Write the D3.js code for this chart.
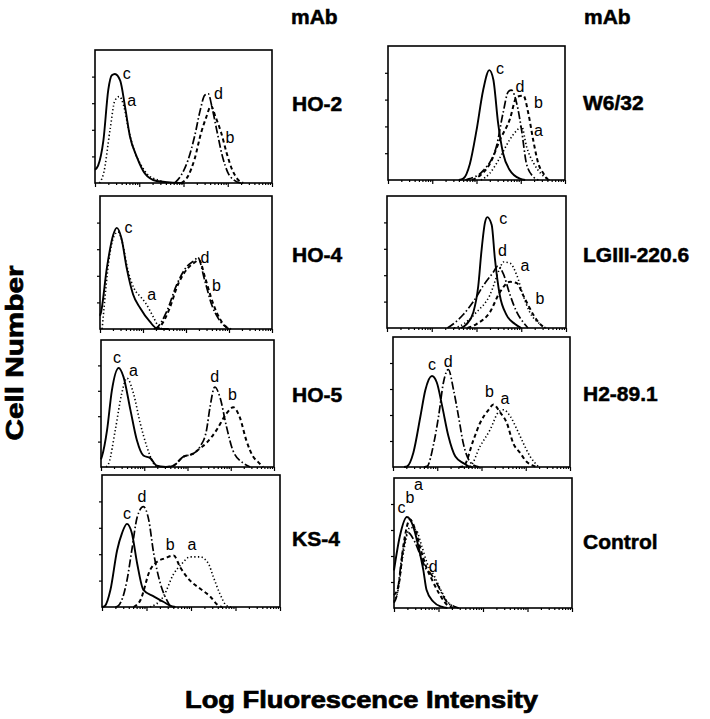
<!DOCTYPE html>
<html lang="en">
  <head>
    <meta charset="utf-8" />
    <script src="https://d3js.org/d3.v7.min.js"></script>
    <style>
      body {
        margin: 0;
        background-color: #fff;
      }
      svg text {
        font-family: "Liberation Sans", Arial, sans-serif;
        fill: #000;
      }
      .name {
        font-weight: bold;
        font-size: 21px;
        stroke: #000;
        stroke-width: 0.5px;
      }
      .title {
        font-weight: bold;
        font-size: 23px;
        stroke: #000;
        stroke-width: 0.7px;
      }
      .letter {
        font-size: 16px;
      }
      .curve {
        fill: none;
        stroke: #000;
      }
      .box {
        fill: none;
        stroke: #000;
        stroke-width: 1.6px;
      }
      .axis path {
        display: none;
      }
      .axis line {
        stroke: #000;
        stroke-width: 1.2px;
      }
    </style>
  </head>
  <body>
    <div id="chart"></div>

    <script>
      // x : log fluorescence in decades (0-4), y : % of frame height
      const names = ["HO-2", "HO-4", "HO-5", "KS-4", "W6/32", "LGIII-220.6", "H2-89.1", "Control"];

      const ho2A = [[0.1,0],[0.2,8],[0.34,40],[0.45,62],[0.55,65],[0.65,58],[0.76,40],[0.88,25],[1.05,13],[1.2,6],[1.45,2],[1.7,0]];
      const ho2B = [[1.95,0],[2.1,5],[2.25,18],[2.4,38],[2.52,50],[2.62,58],[2.72,50],[2.85,38],[2.98,22],[3.1,10],[3.22,3],[3.35,0]];
      const ho2C = [[0,10],[0.07,13],[0.19,32],[0.3,70],[0.38,81],[0.45,82],[0.57,77],[0.68,57],[0.79,35],[0.94,20],[1.13,7],[1.39,1.5],[1.7,0.5],[2.0,0]];
      const ho2D = [[1.8,0],[1.95,6],[2.1,17],[2.25,35],[2.38,55],[2.48,66],[2.56,67],[2.65,56],[2.75,40],[2.88,20],[3.0,8],[3.15,2],[3.3,0]];
      const ho2Labels = [["c",0.72,82],["a",0.83,62],["d",2.79,67],["b",3.05,34]];

      const ho4A = [[0.05,0],[0.1,18],[0.2,50],[0.33,70],[0.42,73],[0.52,65],[0.65,44],[0.8,30],[0.95,24],[1.05,20],[1.24,9],[1.36,2],[1.45,0]];
      const ho4B = [[1.3,0],[1.4,2],[1.6,14],[1.82,34],[2.05,46],[2.2,50],[2.3,52],[2.45,38],[2.62,20],[2.78,8],[2.92,2],[3.05,0]];
      const ho4C = [[0,10],[0.02,12],[0.16,46],[0.31,71],[0.39,76],[0.5,68],[0.62,46],[0.77,26],[0.93,16],[1.16,5.5],[1.32,0.5],[1.6,0]];
      const ho4D = [[1.25,0],[1.32,1],[1.55,13],[1.78,33],[2.02,47],[2.21,52],[2.27,54],[2.44,36],[2.6,18],[2.75,8],[2.87,3],[3.0,0]];
      const ho4Labels = [["c",0.66,76],["a",1.2,26],["d",2.44,54],["b",2.71,33]];

      const ho5A = [[0.12,0],[0.18,3],[0.33,29],[0.48,58],[0.6,70],[0.75,58],[0.91,34],[1.06,16],[1.21,3],[1.3,0]];
      const ho5B = [[1.5,0],[1.67,1],[1.9,8],[2.13,10.5],[2.3,15],[2.44,19],[2.67,29],[2.9,42],[3.06,47],[3.21,39],[3.36,21],[3.52,8],[3.63,4],[3.75,0]];
      const ho5C = [[0,6],[0.02,8],[0.14,29],[0.25,60],[0.41,78],[0.52,71],[0.68,45],[0.83,21],[0.98,9],[1.14,7],[1.29,1],[1.5,0]];
      const ho5D = [[1.5,0],[1.67,1],[1.9,8],[2.13,10.5],[2.29,16],[2.44,29],[2.52,47],[2.63,63],[2.75,55],[2.9,32],[3.05,13],[3.29,3],[3.45,0]];
      const ho5Labels = [["c",0.37,86],["a",0.75,76],["d",2.63,71],["b",3.04,57]];

      const ks4A = [[1.08,0],[1.38,8],[1.61,25],[1.8,33],[1.98,38],[2.2,38],[2.39,33],[2.5,23],[2.65,10],[2.8,1],[2.9,0]];
      const ks4B = [[0.71,0],[0.86,5],[1.08,28],[1.23,34],[1.42,37],[1.61,39],[1.76,30],[1.98,20],[2.2,14],[2.43,8],[2.62,1],[2.7,0]];
      const ks4C = [[0,0],[0.07,1],[0.19,13],[0.34,43],[0.45,56],[0.56,63],[0.67,56],[0.79,33],[0.93,13],[1.16,8],[1.38,4],[1.53,1],[1.65,0]];
      const ks4D = [[0.3,0],[0.37,1],[0.56,20],[0.67,43],[0.79,68],[0.93,76],[1.05,66],[1.16,41],[1.31,18],[1.46,5],[1.53,1],[1.6,0]];
      const ks4Labels = [["c",0.56,71],["d",0.9,84],["b",1.53,47],["a",2.02,47]];

      const w632A = [[2.1,0],[2.3,5],[2.5,15],[2.75,30],[2.91,37],[3.02,40],[3.13,25],[3.3,12],[3.45,5],[3.55,2],[3.65,0]];
      const w632B = [[1.9,0],[2.1,4],[2.3,12],[2.53,30],[2.75,45],[2.91,62],[3.06,63],[3.17,50],[3.28,30],[3.4,12],[3.51,5],[3.62,0]];
      const w632C = [[1.6,0],[1.7,1],[1.85,12],[2.0,37],[2.15,67],[2.29,82],[2.38,75],[2.49,42],[2.6,20],[2.75,7.5],[2.98,1],[3.1,0]];
      const w632D = [[1.75,0],[1.85,1],[2.15,7],[2.45,25],[2.6,50],[2.72,66],[2.79,67],[2.91,57],[3.02,37],[3.13,12],[3.28,2.5],[3.4,0]];
      const w632Labels = [["c",2.53,83],["d",2.98,70],["b",3.4,58],["a",3.4,37]];

      const lgA = [[1.5,0],[1.63,1.5],[2.0,12],[2.3,25],[2.52,45],[2.6,50],[2.75,49],[2.9,40],[3.04,25],[3.19,12],[3.42,3],[3.55,0]];
      const lgB = [[1.8,0],[2.0,3],[2.3,12],[2.52,27],[2.75,35],[2.9,34],[3.04,25],[3.16,17],[3.27,10],[3.42,3],[3.55,0]];
      const lgC = [[1.65,0],[1.78,3],[1.93,12],[2.04,32],[2.11,58],[2.19,80],[2.24,84],[2.34,78],[2.41,53],[2.52,25],[2.67,10],[2.86,3],[3.0,0]];
      const lgD = [[1.35,0],[1.48,3],[1.7,10],[1.93,20],[2.15,32],[2.37,42],[2.48,47],[2.6,41],[2.75,25],[2.9,12],[3.04,4.5],[3.15,0]];
      const lgLabels = [["c",2.6,83],["d",2.58,59],["a",3.08,47],["b",3.42,22]];

      const h2A = [[1.65,0],[1.74,0.5],[1.97,16],[2.2,29],[2.38,42],[2.5,44],[2.65,39],[2.8,29],[2.95,18],[3.1,8],[3.21,3],[3.3,0]];
      const h2B = [[1.5,0],[1.59,0.5],[1.82,21],[1.97,34],[2.16,44],[2.27,48],[2.42,42],[2.57,34],[2.72,18],[2.87,11],[3.02,4],[3.17,1],[3.25,0]];
      const h2C = [[0.25,0],[0.32,0.5],[0.46,11],[0.62,39],[0.73,59],[0.88,70],[0.99,65],[1.11,47],[1.25,24],[1.41,8],[1.59,3],[1.71,0.5],[1.8,0]];
      const h2D = [[0.7,0],[0.77,0.5],[0.92,18],[1.03,39],[1.14,65],[1.25,75],[1.37,59],[1.48,39],[1.59,18],[1.74,4],[1.89,0.5],[1.95,0]];
      const h2Labels = [["c",0.88,79],["d",1.25,81],["b",2.18,58],["a",2.53,53]];

      const ctA = [[0,5],[0.08,12],[0.2,40],[0.36,62],[0.5,60],[0.62,48],[0.75,34],[0.9,25],[1.05,14],[1.2,5],[1.35,1],[1.45,0]];
      const ctB = [[0,10],[0.1,17],[0.22,50],[0.36,68],[0.48,60],[0.6,45],[0.72,32],[0.85,22],[1.0,12],[1.15,4],[1.3,0.5],[1.4,0]];
      const ctC = [[0,29],[0.13,55],[0.29,70],[0.43,63],[0.55,47],[0.66,29],[0.73,14],[0.88,5],[1.07,1],[1.2,0]];
      const ctD = [[0,4],[0.06,9],[0.18,40],[0.32,58],[0.45,52],[0.6,40],[0.72,30],[0.81,27],[0.96,19],[1.18,5],[1.37,1],[1.45,0]];
      const ctLabels = [["c",0.17,77],["b",0.36,85],["a",0.55,95],["d",0.88,32]];

      const curves = [
        { a: ho2A, b: ho2B, c: ho2C, d: ho2D, labels: ho2Labels },
        { a: ho4A, b: ho4B, c: ho4C, d: ho4D, labels: ho4Labels },
        { a: ho5A, b: ho5B, c: ho5C, d: ho5D, labels: ho5Labels },
        { a: ks4A, b: ks4B, c: ks4C, d: ks4D, labels: ks4Labels },
        { a: w632A, b: w632B, c: w632C, d: w632D, labels: w632Labels },
        { a: lgA, b: lgB, c: lgC, d: lgD, labels: lgLabels },
        { a: h2A, b: h2B, c: h2C, d: h2D, labels: h2Labels },
        { a: ctA, b: ctB, c: ctC, d: ctD, labels: ctLabels }
      ];

      // frames (scanned figure is slightly skewed)
      const frames = [
        { x: 95, y: 50, w: 177, h: 133, lx: 292, ly: 111 },
        { x: 100, y: 196, w: 172, h: 133, lx: 292, ly: 262 },
        { x: 101, y: 340, w: 173, h: 127, lx: 292, ly: 402 },
        { x: 102, y: 475, w: 178, h: 132, lx: 292, ly: 546 },
        { x: 388, y: 46, w: 177, h: 134, lx: 583, ly: 110 },
        { x: 387, y: 196, w: 179, h: 132, lx: 583, ly: 262 },
        { x: 393, y: 337, w: 177, h: 130, lx: 583, ly: 401 },
        { x: 394, y: 478, w: 178, h: 130, lx: 583, ly: 549 }
      ];

      const styles = {
        a: { dash: "1.3,2.4", width: 1.6 },
        b: { dash: "4,3", width: 2 },
        c: { dash: null, width: 1.9 },
        d: { dash: "8,2.5,1.5,2.5", width: 1.7 }
      };

      const svg = d3
        .select("#chart")
        .append("svg")
        .attr("width", 710)
        .attr("height", 719);

      const majors = [0, 1, 2, 3, 4];
      const minors = [];
      for (let dec = 0; dec < 4; dec++) {
        for (let k = 2; k < 10; k++) minors.push(dec + Math.log10(k));
      }

      frames.forEach((f, i) => {
        const x = d3.scaleLinear().domain([0, 4]).range([0, f.w]);
        const y = d3.scaleLinear().domain([0, 100]).range([f.h, 0]);
        const g = svg.append("g").attr("transform", `translate(${f.x},${f.y})`);

        g.append("rect").attr("class", "box").attr("width", f.w).attr("height", f.h);

        g.append("g")
          .attr("class", "axis")
          .call(d3.axisLeft(y).tickValues([20, 40, 60, 80]).tickSize(3).tickFormat(""));

        g.append("g")
          .attr("class", "axis")
          .attr("transform", `translate(0,${f.h})`)
          .call(d3.axisBottom(x).tickValues(majors).tickSize(4).tickFormat(""));

        g.append("g")
          .attr("class", "axis")
          .attr("transform", `translate(0,${f.h})`)
          .call(d3.axisBottom(x).tickValues(minors).tickSize(2).tickFormat(""));

        const line = d3
          .line()
          .x((d) => x(d[0]))
          .y((d) => y(d[1]))
          .curve(d3.curveMonotoneX);

        const set = curves[i];
        ["a", "b", "d", "c"].forEach((k) => {
          g.append("path")
            .attr("class", "curve")
            .attr("d", line(set[k]))
            .attr("stroke-width", styles[k].width)
            .attr("stroke-dasharray", styles[k].dash);
        });

        g.selectAll(".letter")
          .data(set.labels)
          .join("text")
          .attr("class", "letter")
          .attr("x", (d) => x(d[1]))
          .attr("y", (d) => y(d[2]))
          .attr("text-anchor", "middle")
          .attr("dominant-baseline", "central")
          .text((d) => d[0]);

        svg.append("text")
          .attr("class", "name")
          .attr("x", f.lx)
          .attr("y", f.ly)
          .text(names[i]);
      });

      svg.append("text").attr("class", "name").attr("x", 291).attr("y", 24).text("mAb");
      svg.append("text").attr("class", "name").attr("x", 584).attr("y", 24).text("mAb");

      svg.append("text")
        .attr("class", "title")
        .attr("transform", "translate(23,353) rotate(-90)")
        .attr("text-anchor", "middle")
        .attr("textLength", 175)
        .attr("lengthAdjust", "spacingAndGlyphs")
        .text("Cell Number");

      svg.append("text")
        .attr("class", "title")
        .attr("x", 185)
        .attr("y", 708)
        .attr("textLength", 353)
        .attr("lengthAdjust", "spacingAndGlyphs")
        .text("Log Fluorescence Intensity");
    </script>
  </body>
</html>
